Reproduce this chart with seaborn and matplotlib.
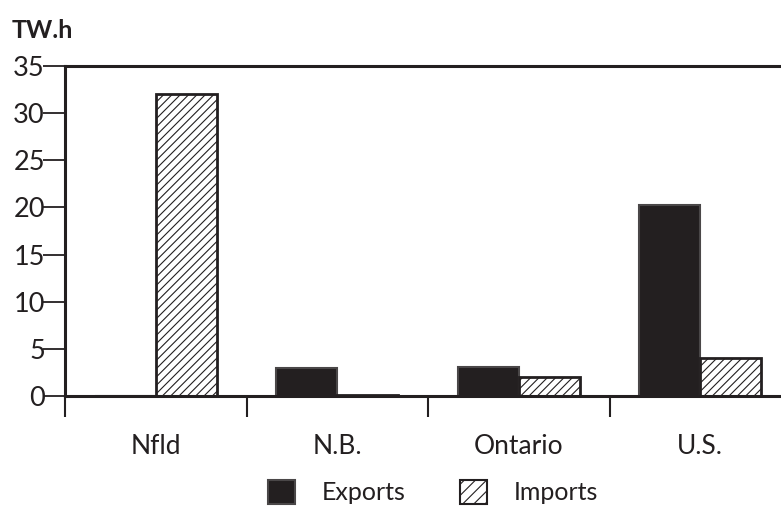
import matplotlib
matplotlib.use("Agg")
import matplotlib.pyplot as plt
from matplotlib.patches import Patch
import seaborn as sns
import pandas as pd

regions = ["Nfld", "N.B.", "Ontario", "U.S."]
exports = [0.0, 3.0, 3.1, 20.3]
imports = [32.0, 0.1, 2.0, 4.0]
y_ticks = [0, 5, 10, 15, 20, 25, 30, 35]

df = pd.DataFrame({
    "region": regions * 2,
    "flow": ["Exports"] * len(regions) + ["Imports"] * len(regions),
    "value": exports + imports,
})

sns.set_theme(style="white")
plt.rcParams["font.family"] = ["Lato", "DejaVu Sans"]
plt.rcParams["hatch.linewidth"] = 0.8

dark = "#231f20"
fig = plt.figure(figsize=(7.81, 5.08), dpi=100)
ax = fig.add_axes([65 / 781, 1 - 396 / 508, 726 / 781, 330 / 508])

sns.barplot(data=df, x="region", y="value", hue="flow", order=regions,
            hue_order=["Exports", "Imports"],
            palette={"Exports": dark, "Imports": "white"},
            width=0.67, saturation=1, ax=ax, legend=False)

exp_bars, imp_bars = ax.containers[0], ax.containers[1]
for p in exp_bars:
    p.set_edgecolor("#4a4748")
    p.set_linewidth(1.5)
for p in imp_bars:
    p.set_edgecolor(dark)
    p.set_linewidth(2.0)
    p.set_hatch("////")

ax.set_xlim(-0.5, len(regions) - 0.5)
ax.set_ylim(0, 35)
ax.set_yticks(y_ticks)
ax.set_yticklabels([str(t) for t in y_ticks], fontsize=19.5, color=dark)
ax.set_xlabel("")
ax.set_ylabel("")

# category labels centred, tick marks at the group boundaries
ax.set_xticks(range(len(regions)))
ax.set_xticklabels(regions, fontsize=19, color=dark)
ax.set_xticks([i - 0.5 for i in range(len(regions) + 1)], minor=True)
ax.tick_params(axis="x", which="major", length=0, pad=27)
ax.tick_params(axis="x", which="minor", length=15, width=1.5, color=dark,
               direction="out", bottom=True)
ax.tick_params(axis="y", length=16, width=1.3, color=dark, direction="out",
               left=True, pad=-1.5)

for side in ["left", "top", "bottom", "right"]:
    ax.spines[side].set_color(dark)
    ax.spines[side].set_linewidth(2.2)

fig.text(12 / 781, 1 - 30 / 508, "TW.h", fontsize=18, fontweight="bold",
         color=dark, va="center", ha="left")

handles = [
    Patch(facecolor=dark, edgecolor="#4a4748", linewidth=1.5, label="Exports"),
    Patch(facecolor="white", edgecolor=dark, linewidth=1.5, hatch="///",
          label="Imports"),
]
fig.legend(handles=handles, loc="center", bbox_to_anchor=(433 / 781, 1 - 492 / 508),
           ncol=2, frameon=False, fontsize=18, handlelength=1.1, handleheight=1.1,
           handletextpad=1.08, columnspacing=2.15, labelcolor=dark)

fig.savefig("out.png", dpi=100)
